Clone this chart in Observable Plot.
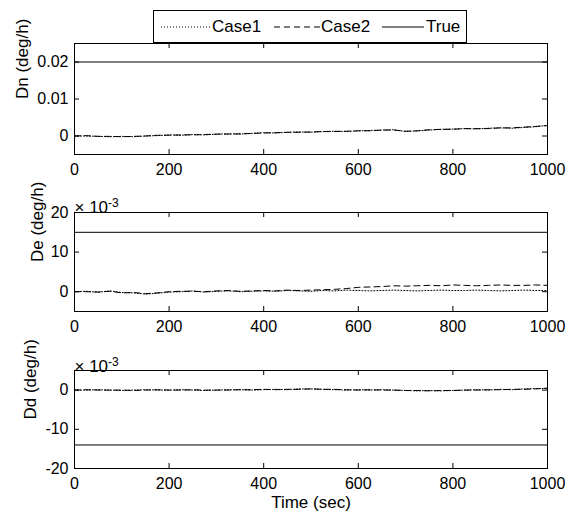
<!DOCTYPE html>
<html><head><meta charset="utf-8">
<script src="https://cdn.jsdelivr.net/npm/d3@7"></script>
<script src="https://cdn.jsdelivr.net/npm/@observablehq/plot@0.6"></script>
<style>
body{margin:0;background:#fff;}
#wrap{position:relative;width:574px;height:518px;font-family:"Liberation Sans",Arial,sans-serif;color:#000;}
.panel{position:absolute;left:0;}
#legend{position:absolute;left:153px;top:10px;width:312px;height:31px;border:1px solid #000;background:#fff;font-size:17px;z-index:2;}
#legend .it{position:absolute;top:0;height:31px;line-height:31px;}
#legend svg{position:absolute;top:15px;}
</style></head><body><div id="wrap"></div>
<script>
const time = [0,25,50,75,100,125,150,175,200,225,250,275,300,325,350,375,400,425,450,475,500,525,550,575,600,625,650,675,700,725,750,775,800,825,850,875,900,925,950,975,1000];
const seriesNames = ["Case1","Case2","True"];
const xTicks = [0,200,400,600,800,1000];

// Dn (deg/h)
const dnCase1 = [0,0,-0.0001,-0.0002,-0.0001,-0.0002,0,0.0001,0.0003,0.0002,0.0004,0.0003,0.0005,0.0006,0.0005,0.0007,0.0009,0.0008,0.0010,0.0011,0.0010,0.0012,0.0013,0.0012,0.0014,0.0015,0.0016,0.0017,0.0012,0.0014,0.0016,0.0018,0.0019,0.0020,0.0019,0.0021,0.0022,0.0021,0.0023,0.0025,0.0029];
const dnCase2 = [0,0.0001,-0.0001,-0.0001,-0.0002,-0.0001,0,0.0002,0.0002,0.0003,0.0003,0.0004,0.0005,0.0005,0.0006,0.0007,0.0008,0.0009,0.0010,0.0010,0.0011,0.0012,0.0012,0.0013,0.0014,0.0014,0.0016,0.0016,0.0013,0.0014,0.0017,0.0018,0.0018,0.0020,0.0020,0.0020,0.0022,0.0022,0.0024,0.0026,0.0028];
const dnTrue = 0.02;
const dnTicks = [0,0.01,0.02];

// De (x 10^-3 deg/h)
const deCase1 = [0,0.1,-0.1,0.2,-0.2,-0.3,-0.6,-0.4,-0.1,0,0.2,-0.1,0.1,0.2,0,0.1,0.2,0.1,0.3,0.2,0.1,0.3,0.2,0.4,0.3,0.2,0.3,0.4,0.3,0.2,0.3,0.4,0.3,0.3,0.4,0.3,0.2,0.3,0.4,0.3,0.3];
const deCase2 = [0,0,-0.1,0.1,-0.3,-0.2,-0.5,-0.3,0,0.1,0.1,0,0.2,0.3,0.1,0.2,0.3,0.2,0.4,0.3,0.4,0.5,0.6,0.8,1.1,1.2,1.3,1.5,1.4,1.5,1.6,1.5,1.7,1.6,1.5,1.6,1.7,1.6,1.6,1.7,1.6];
const deTrue = 15;
const deTicks = [0,10,20];

// Dd (x 10^-3 deg/h)
const ddCase1 = [0,0,0.1,0,-0.1,0,0.1,0,0,0.1,0,-0.1,0,0.1,0.1,0,0.1,0.2,0.1,0.3,0.3,0.2,0.1,0,0.1,0,0.1,0,-0.1,-0.2,-0.1,-0.2,-0.1,0,0.1,0,0.2,0.1,0.3,0.4,0.4];
const ddCase2 = [0,0.1,0,0,0,-0.1,0,0.1,0,0,0.1,0,0,0,0.1,0.1,0.2,0.1,0.2,0.2,0.3,0.2,0.2,0.1,0,0.1,0,0,-0.1,-0.1,-0.2,-0.1,-0.1,0,0,0.1,0.1,0.2,0.2,0.3,0.5];
const ddTrue = -14;
const ddTicks = [-20,-10,0];

const FONT = '"Liberation Sans", Arial, sans-serif';
const W = 574, ML = 74, MR = 27;

function panel(o) {
  const data = time.map((t, i) => ({t, c1: o.c1[i], c2: o.c2[i]}));
  const ph = o.height - o.mt - o.mb;
  const pw = W - ML - MR;
  const marks = [
    Plot.ruleY([o.truth], {stroke: "#000", strokeWidth: 1}),
    Plot.line(data, {x: "t", y: "c1", stroke: "#000", strokeWidth: 1, strokeDasharray: "1,2"}),
    Plot.line(data, {x: "t", y: "c2", stroke: "#000", strokeWidth: 1, strokeDasharray: "6,4"}),
    Plot.frame({stroke: "#000", strokeWidth: 1}),
    Plot.tickX(xTicks, {x: d => d, insetBottom: ph - 5, stroke: "#000"}),
    Plot.tickX(xTicks, {x: d => d, insetTop: ph - 5, stroke: "#000"}),
    Plot.tickY(o.yTicks, {y: d => d, insetRight: pw - 5, stroke: "#000"}),
    Plot.tickY(o.yTicks, {y: d => d, insetLeft: pw - 5, stroke: "#000"}),
    Plot.axisX(xTicks, {tickSize: 0, tickPadding: 9, tickFormat: d => String(d), label: null, fontSize: 16}),
    Plot.axisY(o.yTicks, {tickSize: 0, tickPadding: 6, tickFormat: d => String(d), label: null, fontSize: 16}),
    Plot.text([o.label], {frameAnchor: "left", rotate: -90, dx: o.labelDx, text: d => d, fill: "#000", fontSize: 17})
  ];
  if (o.exp) marks.push(Plot.text(["× 10-3"], {frameAnchor: "top-left", textAnchor: "start", dy: o.expDy, text: d => d, fill: "#000", fontSize: 17, className: "expo"}));
  if (o.xlabel) marks.push(Plot.text([o.xlabel], {frameAnchor: "bottom", dy: 39, text: d => d, fill: "#000", fontSize: 17}));
  const svg = Plot.plot({
    width: W, height: o.height,
    marginTop: o.mt, marginBottom: o.mb, marginLeft: ML, marginRight: MR,
    style: {fontFamily: FONT, fontSize: "16px", color: "#000", background: "transparent", overflow: "visible"},
    x: {domain: [0, 1000], label: null},
    y: {domain: o.domain, label: null},
    marks
  });
  // render the multiplier exponent as a raised superscript
  d3.select(svg).selectAll(".expo text").each(function () {
    const t = d3.select(this);
    t.text(null);
    t.append("tspan").text("× 10");
    t.append("tspan").attr("dy", "-0.5em").attr("font-size", "12px").text("-3");
  });
  svg.classList.add("panel");
  svg.style.top = o.top + "px";
  svg.style.position = "absolute";
  return svg;
}

const wrap = document.getElementById("wrap");
wrap.appendChild(panel({top: 0, height: 190, mt: 43, mb: 36, domain: [-0.005, 0.025], yTicks: dnTicks, label: "Dn (deg/h)", labelDx: -52, c1: dnCase1, c2: dnCase2, truth: dnTrue}));
wrap.appendChild(panel({top: 190, height: 150, mt: 22, mb: 29, domain: [-5, 20], yTicks: deTicks, label: "De (deg/h)", labelDx: -37, c1: deCase1, c2: deCase2, truth: deTrue, exp: true, expDy: -12}));
wrap.appendChild(panel({top: 340, height: 178, mt: 30, mb: 50, domain: [-20, 5], yTicks: ddTicks, label: "Dd (deg/h)", labelDx: -44, c1: ddCase1, c2: ddCase2, truth: ddTrue, exp: true, expDy: -11, xlabel: "Time (sec)"}));

// legend
const legend = document.createElement("div");
legend.id = "legend";
const styles = [
  {dash: "1,2", x: 7, w: 50, tx: 58},
  {dash: "6,4", x: 120, w: 46, tx: 167},
  {dash: null, x: 228, w: 42, tx: 272}
];
seriesNames.forEach((name, i) => {
  const s = styles[i];
  const sw = document.createElementNS("http://www.w3.org/2000/svg", "svg");
  sw.setAttribute("width", s.w); sw.setAttribute("height", 2);
  sw.style.left = s.x + "px";
  const ln = document.createElementNS("http://www.w3.org/2000/svg", "line");
  ln.setAttribute("x1", 0); ln.setAttribute("x2", s.w); ln.setAttribute("y1", 1); ln.setAttribute("y2", 1);
  ln.setAttribute("stroke", "#000"); ln.setAttribute("stroke-width", 1);
  if (s.dash) ln.setAttribute("stroke-dasharray", s.dash);
  sw.appendChild(ln);
  legend.appendChild(sw);
  const t = document.createElement("span");
  t.className = "it"; t.style.left = s.tx + "px"; t.textContent = name;
  legend.appendChild(t);
});
wrap.appendChild(legend);
</script></body></html>
